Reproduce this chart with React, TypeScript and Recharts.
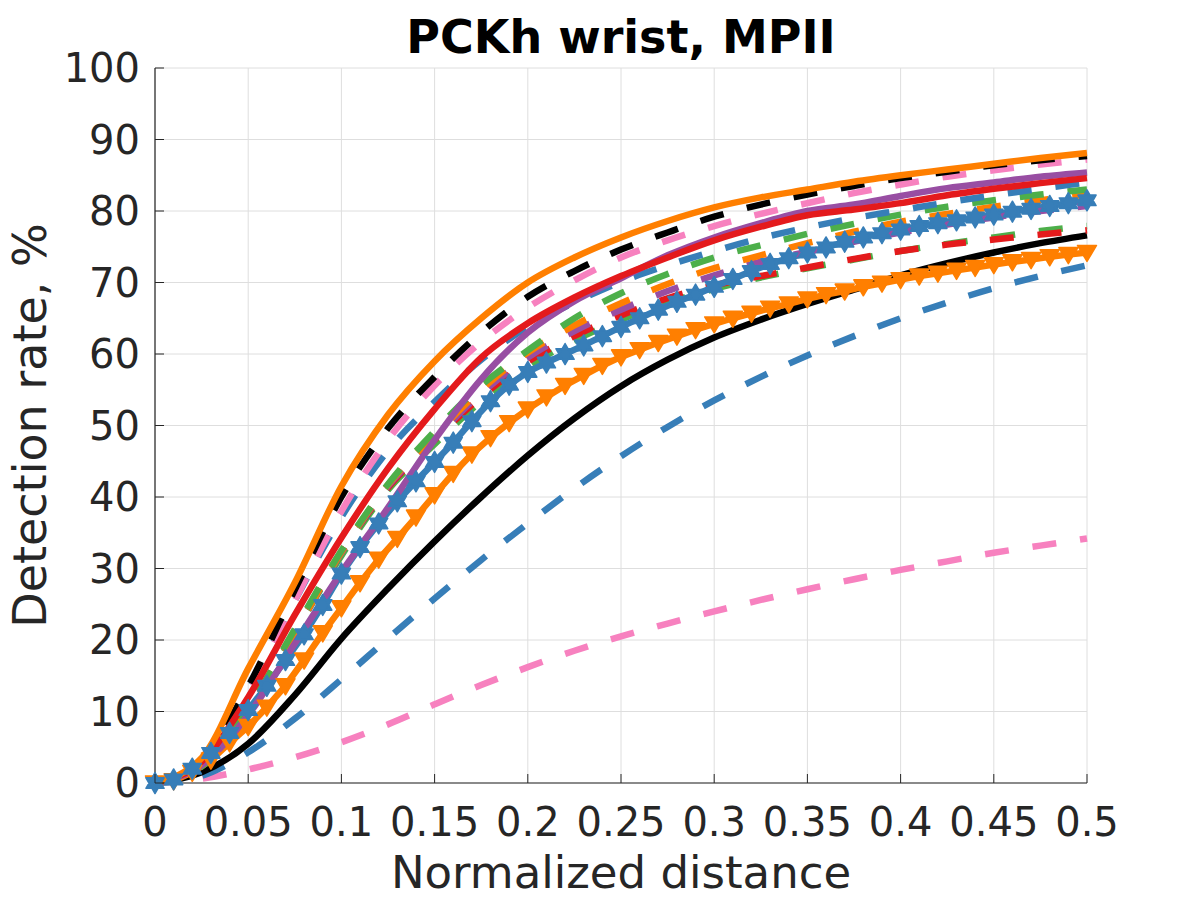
import React from 'react';
import { LineChart, Line, XAxis, YAxis, CartesianGrid, Label } from 'recharts';

// sample positions along normalized distance
const xCoarse = [0, 0.025, 0.05, 0.075, 0.1, 0.125, 0.15, 0.175, 0.2, 0.225, 0.25, 0.275, 0.3, 0.325, 0.35, 0.375, 0.4, 0.425, 0.45, 0.475, 0.5];
const xFine = [
  0, 0.01, 0.02, 0.03, 0.04, 0.05, 0.06, 0.07, 0.08, 0.09, 0.1, 0.11, 0.12, 0.13, 0.14, 0.15, 0.16, 0.17, 0.18, 0.19, 0.2,
  0.21, 0.22, 0.23, 0.24, 0.25, 0.26, 0.27, 0.28, 0.29, 0.3, 0.31, 0.32, 0.33, 0.34, 0.35, 0.36, 0.37, 0.38, 0.39, 0.4,
  0.41, 0.42, 0.43, 0.44, 0.45, 0.46, 0.47, 0.48, 0.49, 0.5,
];

const xTicks = [0, 0.05, 0.1, 0.15, 0.2, 0.25, 0.3, 0.35, 0.4, 0.45, 0.5];
const yTicks = [0, 10, 20, 30, 40, 50, 60, 70, 80, 90, 100];

// detection rate, %
const orangeSolid = [0, 3.5, 16, 28, 41.5, 51.5, 59, 65, 70, 73.5, 76.3, 78.6, 80.5, 81.9, 83, 84.1, 85, 85.8, 86.6, 87.4, 88.1];
const blackDashed = [0, 3.2, 13.5, 27, 40, 49.6, 56.8, 63, 68, 71.6, 74.6, 77, 79.2, 80.9, 82.3, 83.5, 84.6, 85.5, 86.4, 87.1, 87.7];
const pinkUpper = [0, 3, 12.5, 25.5, 38, 48, 55.6, 61.7, 66.5, 70.3, 73.5, 75.9, 77.9, 79.6, 81.1, 82.5, 83.7, 84.8, 85.7, 86.5, 87.2];
const blueUpper = [0, 3, 13, 25.5, 37.2, 46.5, 53.3, 59.2, 63.8, 67.2, 70.1, 72.4, 74.4, 76.2, 77.7, 79, 80.1, 81.2, 82.2, 83.1, 84];
const purpleSolid = [0, 2.5, 9.5, 19.5, 29.5, 38.5, 48, 56.5, 63, 67.4, 70.6, 73.8, 76.3, 78.3, 80, 80.9, 82.1, 83.2, 84, 84.8, 85.4];
const redSolid = [0, 3, 12, 23.5, 34.3, 44, 52.3, 59.5, 64.3, 67.9, 70.9, 73.5, 75.9, 77.8, 79.4, 80.2, 81.1, 82.2, 83.1, 83.9, 84.6];
const greenUpper = [0, 2.5, 10.5, 21.5, 32.5, 41.8, 49.2, 55.6, 60.5, 65, 68.5, 71.2, 73.5, 75.2, 76.8, 78.2, 79.5, 80.6, 81.5, 82.3, 83];
const orangeDashed = [0, 2.5, 10, 21, 32.3, 41.7, 48.6, 55, 60.2, 64, 67.1, 69.8, 72, 73.8, 75.5, 77.1, 78.5, 79.6, 80.6, 81.5, 82.3];
const purpleDashed = [0, 2.5, 10, 21, 32.2, 41.5, 48.2, 54.5, 59.5, 63.2, 66.2, 68.8, 71, 72.9, 74.3, 75.7, 77, 78.1, 79.1, 80, 80.7];
const redDashed = [0, 2.5, 10.3, 21.3, 32.3, 41.3, 48, 54, 58.9, 62.5, 65.4, 67.8, 69.6, 70.9, 72.1, 73.3, 74.4, 75.3, 76, 76.7, 77.3];
const greenLower = [0, 2.3, 10, 21, 31.8, 41, 47.4, 53.4, 58.2, 61.9, 64.8, 67.2, 69.1, 70.7, 72, 73.2, 74.4, 75.4, 76.3, 77.2, 77.9];
const blackSolid = [0, 1.5, 5.5, 12.3, 20.2, 27.2, 33.8, 40, 45.8, 51, 55.5, 59.2, 62.3, 64.8, 67, 69, 71, 72.7, 74.2, 75.5, 76.6];
const blueLower = [0, 1, 4.3, 9, 14.5, 20.2, 25.8, 31.2, 36.3, 41.2, 45.7, 49.8, 53.5, 56.8, 59.8, 62.5, 65, 67.2, 69.2, 70.9, 72.4];
const pinkLower = [0, 0.6, 1.9, 3.6, 5.7, 8.2, 11, 13.7, 16.2, 18.5, 20.5, 22.3, 24, 25.6, 27.1, 28.5, 29.8, 31, 32.2, 33.2, 34.2];

const orangeTri = [
  0, 0.3, 1.5, 3.2, 5.6, 7.9, 10.6, 13.6, 17.2, 21, 24.5, 28, 31.3, 34.2, 37.2, 40.3, 43.3, 46, 48.3, 50.4, 52.3,
  54, 55.6, 57, 58.4, 59.6, 60.6, 61.6, 62.5, 63.4, 64.2, 65, 65.7, 66.4, 67, 67.7, 68.3, 68.8, 69.4, 69.9, 70.4,
  70.9, 71.3, 71.7, 72.1, 72.5, 72.9, 73.2, 73.6, 73.9, 74.2,
];
const blueStar = [
  0, 0.5, 2, 4.2, 7, 10.2, 13.6, 17.2, 20.8, 24.9, 29.3, 33, 36.3, 39.4, 42.2, 44.9, 47.6, 50.6, 53.4, 55.7, 57.5,
  58.8, 60, 61.2, 62.5, 63.8, 65, 66.2, 67.3, 68.3, 69.4, 70.5, 71.6, 72.6, 73.4, 74.2, 74.9, 75.7, 76.3, 76.9, 77.4,
  77.9, 78.3, 78.7, 79.1, 79.5, 79.9, 80.3, 80.7, 81.1, 81.5,
];

const toPoints = (xs: number[], ys: number[]) => xs.map((x, i) => ({ x, y: ys[i] }));

const ORANGE = '#ff7f00';
const BLACK = '#000000';
const PINK = '#f781bf';
const BLUE = '#377eb8';
const PURPLE = '#984ea3';
const RED = '#e41a1c';
const GREEN = '#4daf4a';
const DASH = '24 24';
const FONT = '"DejaVu Sans", sans-serif';
const AXIS = '#262626';

const W = 1200;
const H = 900;
const PLOT_LEFT = 155;
const PLOT_TOP = 68;
const PLOT_RIGHT = 1087;
const PLOT_BOTTOM = 783;

type Series = { key: string; xs: number[]; ys: number[]; color: string; dash?: string; marker?: 'tri' | 'star' };

// bottom to top
const series: Series[] = [
  { key: 'pinkLower', xs: xCoarse, ys: pinkLower, color: PINK, dash: DASH },
  { key: 'blueLower', xs: xCoarse, ys: blueLower, color: BLUE, dash: DASH },
  { key: 'blackSolid', xs: xCoarse, ys: blackSolid, color: BLACK },
  { key: 'orangeTri', xs: xFine, ys: orangeTri, color: ORANGE, marker: 'tri' },
  { key: 'greenLower', xs: xCoarse, ys: greenLower, color: GREEN, dash: DASH },
  { key: 'redDashed', xs: xCoarse, ys: redDashed, color: RED, dash: DASH },
  { key: 'blueStar', xs: xFine, ys: blueStar, color: BLUE, marker: 'star' },
  { key: 'purpleDashed', xs: xCoarse, ys: purpleDashed, color: PURPLE, dash: DASH },
  { key: 'orangeDashed', xs: xCoarse, ys: orangeDashed, color: ORANGE, dash: DASH },
  { key: 'greenUpper', xs: xCoarse, ys: greenUpper, color: GREEN, dash: DASH },
  { key: 'blueUpper', xs: xCoarse, ys: blueUpper, color: BLUE, dash: DASH },
  { key: 'pinkUpper', xs: xCoarse, ys: pinkUpper, color: PINK, dash: DASH },
  { key: 'blackDashed', xs: xCoarse, ys: blackDashed, color: BLACK, dash: DASH },
  { key: 'purpleSolid', xs: xCoarse, ys: purpleSolid, color: PURPLE },
  { key: 'redSolid', xs: xCoarse, ys: redSolid, color: RED },
  { key: 'orangeSolid', xs: xCoarse, ys: orangeSolid, color: ORANGE },
];

const triPath = (cx: number, cy: number) =>
  `M${cx - 9.5},${cy - 7} L${cx + 9.5},${cy - 7} L${cx},${cy + 9} Z`;

const starPath = (cx: number, cy: number) => {
  const r = 10.5;
  const pt = (deg: number) => {
    const a = (deg * Math.PI) / 180;
    return `${cx + r * Math.cos(a)},${cy + r * Math.sin(a)}`;
  };
  return `M${pt(-90)} L${pt(30)} L${pt(150)} Z M${pt(90)} L${pt(210)} L${pt(330)} Z`;
};

const makeDot = (kind: 'tri' | 'star', color: string) => (p: any) => {
  if (p.cx == null || p.cy == null) return <g key={`${kind}-${p.index}`} />;
  return (
    <path
      key={`${kind}-${p.index}`}
      d={kind === 'tri' ? triPath(p.cx, p.cy) : starPath(p.cx, p.cy)}
      fill={color}
      stroke={color}
      strokeWidth={1.5}
      strokeLinejoin="round"
    />
  );
};

const fmtX = (v: number) => String(Math.round(v * 100) / 100);

const XTick = (props: any) => {
  const { x, payload } = props;
  return (
    <g>
      <line x1={x} x2={x} y1={PLOT_BOTTOM} y2={PLOT_BOTTOM - 9} stroke={AXIS} strokeWidth={1} />
      <text x={x} y={PLOT_BOTTOM + 53} textAnchor="middle" fontSize={40} fill={AXIS} fontFamily={FONT}>
        {fmtX(payload.value)}
      </text>
    </g>
  );
};

const YTick = (props: any) => {
  const { y, payload } = props;
  return (
    <g>
      <line x1={PLOT_LEFT} x2={PLOT_LEFT + 9} y1={y} y2={y} stroke={AXIS} strokeWidth={1} />
      <text x={PLOT_LEFT - 15} y={y + 14} textAnchor="end" fontSize={40} fill={AXIS} fontFamily={FONT}>
        {payload.value}
      </text>
    </g>
  );
};

const App = () => {
  const midY = (PLOT_TOP + PLOT_BOTTOM) / 2;
  const midX = (PLOT_LEFT + PLOT_RIGHT) / 2;
  return (
    <div style={{ position: 'relative', width: W, height: H, margin: -8 }}>
      <LineChart
        width={W}
        height={H}
        margin={{ top: PLOT_TOP, right: W - PLOT_RIGHT, bottom: 0, left: 0 }}
      >
        <CartesianGrid stroke="#dedede" strokeWidth={1} />
        <XAxis
          type="number"
          dataKey="x"
          domain={[0, 0.5]}
          ticks={xTicks}
          height={H - PLOT_BOTTOM}
          tickSize={0}
          tickLine={false}
          tick={<XTick />}
          stroke={AXIS}
          strokeWidth={1.2}
          interval={0}
          allowDuplicatedCategory={false}
        >
          <Label
            content={() => (
              <text x={midX} y={PLOT_BOTTOM + 105} textAnchor="middle" fontSize={45} fill={AXIS} fontFamily={FONT}>
                Normalized distance
              </text>
            )}
          />
        </XAxis>
        <YAxis
          type="number"
          domain={[0, 100]}
          ticks={yTicks}
          width={PLOT_LEFT}
          tickSize={0}
          tickLine={false}
          tick={<YTick />}
          stroke={AXIS}
          strokeWidth={1.2}
          interval={0}
        >
          <Label
            content={() => (
              <text
                x={46}
                y={midY}
                textAnchor="middle"
                fontSize={46}
                fill={AXIS}
                fontFamily={FONT}
                transform={`rotate(-90, 46, ${midY})`}
              >
                Detection rate, %
              </text>
            )}
          />
        </YAxis>
        {series.map((s) => (
          <Line
            key={s.key}
            data={toPoints(s.xs, s.ys)}
            dataKey="y"
            type={s.marker ? 'linear' : 'monotone'}
            stroke={s.color}
            strokeWidth={6.5}
            strokeDasharray={s.dash}
            strokeLinejoin="round"
            dot={s.marker ? makeDot(s.marker, s.color) : false}
            activeDot={false}
            isAnimationActive={false}
          />
        ))}
      </LineChart>
      <div
        style={{
          position: 'absolute',
          left: midX - 300,
          top: 10,
          width: 600,
          textAlign: 'center',
          fontFamily: FONT,
          fontWeight: 'bold',
          fontSize: 46,
          color: '#000',
          lineHeight: 'normal',
          whiteSpace: 'nowrap',
        }}
      >
        PCKh wrist, MPII
      </div>
    </div>
  );
};

export default App;
